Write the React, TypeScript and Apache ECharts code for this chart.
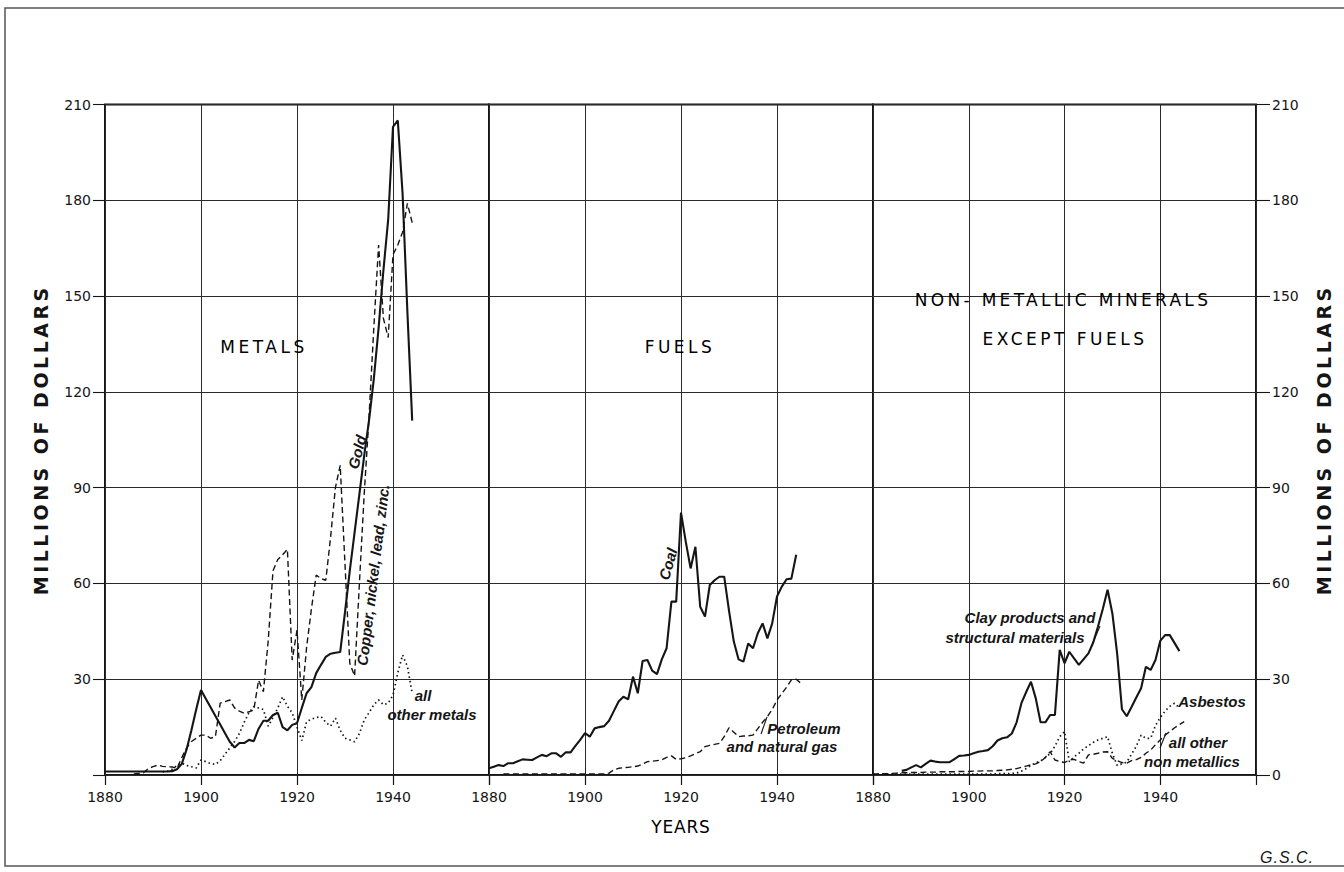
import React, { useEffect, useRef } from "react";
import * as echarts from "echarts";

// ---------- data (millions of dollars, one value per year) ----------
const X_MIN = 1880;
const X_MAX = 1960;
const Y_MAX = 210;

const GOLD_START = 1880;
const GOLD = [
  1.1, 1.1, 1.1, 1.1, 1.1, 1.1, 1.1, 1.1, 1.1, 1.1, 1.1, 1.1, 1.1, 1.1,
  1.2, 1.8, 3.5, 8, 14, 20.5,
  26.6, 23.9, 21.2, 18.5, 15.8, 13.1, 10.4, 8.6, 10, 10,
  11, 10.6, 14.5, 17, 17, 18.8, 19.5, 15, 14, 15.7,
  16.2, 21, 25.6, 27.5, 31.9, 34.5, 37, 38, 38.3, 38.5,
  51, 64, 76, 88, 100, 111, 124, 140, 158, 174,
  203, 205, 182, 145, 111,
];

const COPPER_START = 1886;
const COPPER = [
  0.3, 0.5, 0.7, 2.0, 2.6, 3.1, 2.7, 2.6, 2.5, 2.1, 5.5, 8.5, 10.5, 11.5,
  12.5, 12.5, 11.5, 12, 22.5, 23, 23.5, 21, 20, 19.3,
  19.8, 20.4, 29.7, 26.1, 42, 64, 67.5, 69, 70.7, 36,
  45.4, 23.5, 40, 52, 62.6, 61.5, 61, 74.5, 90, 97,
  66, 35, 31, 60, 88, 112, 140, 166, 143, 137,
  163, 166, 170, 179, 173,
];

const OTHER_METALS_START = 1892;
const OTHER_METALS = [
  1, 1.2, 1.8, 3, 3.7, 3, 2.6, 2.2,
  4.7, 4.2, 3.6, 3.3, 4.5, 6.5, 8.5, 10.5, 13, 16.5,
  19.5, 21.4, 21, 20.5, 15.3, 18, 21, 24.5, 21.5, 19.5,
  15, 10.8, 16.7, 17.5, 18, 18.3, 16.5, 15.3, 17.8, 14,
  11.5, 11, 10.4, 13, 17.2, 19.5, 22, 23.5, 22, 22.5,
  25, 32, 37.6, 34, 25.6,
];

const COAL_START = 1880;
const COAL = [
  2.1, 2.6, 3.1, 2.8, 3.7, 3.7, 4.3, 4.9, 4.8, 4.7,
  5.5, 6.3, 5.9, 6.8, 6.8, 5.7, 7.1, 7.1, 9.1, 11,
  13.1, 12, 14.6, 15, 15.3, 17, 20, 23, 24.5, 23.7,
  30.8, 25.6, 35.7, 36, 32.7, 31.6, 36.2, 39.7, 54.3, 54.3,
  82.2, 73, 64.7, 71.5, 52.7, 49.6, 59.5, 61, 62.1, 62.1,
  51.5, 41.8, 36.2, 35.5, 41.2, 39.7, 44.4, 47.5, 42.8, 47.5,
  55.9, 59, 61.3, 61.5, 69,
];

const PETROLEUM_START = 1883;
const PETROLEUM = [
  0.3, 0.3, 0.3, 0.3, 0.3, 0.3, 0.3,
  0.3, 0.3, 0.3, 0.3, 0.3, 0.3, 0.3, 0.3, 0.3, 0.3,
  0.3, 0.3, 0.3, 0.3, 0.3, 0.6, 1.6, 2.1, 2.3, 2.4,
  2.6, 2.8, 3.4, 4.2, 4.3, 4.5, 4.7, 5.5, 6, 4.9,
  5.1, 5.4, 6, 6.7, 7.3, 8.9, 9.3, 9.6, 9.9, 12,
  14.8, 13.4, 12, 12.2, 12.3, 12.5, 14.5, 16.5, 18.3, 20.5,
  23.5, 25.5, 27.5, 29.8, 30, 28.7,
];

const CLAY_START = 1886;
const CLAY = [
  1.3, 1.6, 2.4, 3.1, 2.4, 3.5, 4.5, 4.2, 4, 4, 4, 5, 6, 6.1,
  6.3, 6.8, 7.3, 7.5, 7.8, 9, 10.8, 11.5, 11.8, 13,
  16.5, 22.5, 26, 29.2, 24, 16.5, 16.5, 18.8, 18.8, 39.2,
  35, 38.6, 36.5, 34.5, 36.3, 38.1, 41.5, 46.5, 52, 58,
  50.6, 38, 20.6, 18.4, 21.3, 24.3, 27.2, 33.9, 32.9, 36,
  42, 43.8, 43.8, 41.3, 38.8,
];

const ASBESTOS_START = 1880;
const ASBESTOS = [
  0.3, 0.3, 0.3, 0.3, 0.3, 0.3, 0.3, 0.3, 0.3, 0.3,
  0.3, 0.3, 0.3, 0.3, 0.3, 0.3, 0.3, 0.3, 0.3, 0.3,
  0.3, 0.3, 0.3, 0.3, 0.3, 0.3, 0.4, 0.4, 0.4, 0.5,
  0.6, 1.2, 2, 3, 3.8, 4.4, 5.5, 6.7, 9, 12,
  13.6, 4.2, 5.7, 6.8, 8.2, 9.2, 10.2, 11, 11.5, 12,
  6.8, 3, 3.5, 4, 6.5, 9, 12.5, 11.5, 11.5, 15.5,
  18, 20, 21.5, 22.5, 21,
];

const OTHER_NONMET_START = 1880;
const OTHER_NONMET = [
  0.3, 0.3, 0.4, 0.4, 0.5, 0.6, 0.7, 0.7, 0.8, 0.8,
  0.8, 0.9, 0.9, 0.9, 1, 1, 1, 1, 1.1, 1.1,
  1.1, 1.2, 1.2, 1.3, 1.3, 1.3, 1.4, 1.5, 1.6, 1.8,
  2, 2.4, 2.8, 3.2, 3.5, 4.2, 5.5, 7.3, 4.7, 4.2,
  3.9, 4.7, 4.9, 4.2, 3.7, 6.3, 6.5, 6.8, 7.2, 7.3,
  5.2, 4.5, 3.9, 3.7, 4.5, 4.8, 5.5, 6.8, 7.8, 9.5,
  11, 12.5, 13.6, 14.8, 15.8, 16.7,
];

const PANEL_TITLES = ["METALS", "FUELS", "NON- METALLIC MINERALS", "EXCEPT FUELS"];
const Y_NAME = "MILLIONS OF DOLLARS";
const X_NAME = "YEARS";

// ---------- helpers ----------
const toPairs = (start: number, values: number[]) =>
  values.map((v, i) => [start + i, v]);

const INK = "#151515";
const FONT = "DejaVu Sans";
const NOTE_FONT = "Liberation Sans";

const GRIDS = [
  { left: 105, width: 384 },
  { left: 489, width: 384 },
  { left: 873, width: 383 },
];
const TOP = 104.5;
const HEIGHT = 670.5;

const SOLID = { color: INK, width: 2.1, type: "solid" as const };
const DASHED = { color: INK, width: 1.4, type: [6, 3.5] };
const DOTTED = { color: INK, width: 1.7, type: [1.5, 3] };

const line = (gi: number, start: number, values: number[], style: any, name: string) => ({
  type: "line",
  name,
  xAxisIndex: gi,
  yAxisIndex: gi,
  data: toPairs(start, values),
  showSymbol: false,
  symbol: "none",
  silent: true,
  lineStyle: style,
  z: 5,
});

const note = (text: string, x: number, y: number, rotDeg = 0, size = 15, weight = "bold") => ({
  type: "text",
  x,
  y,
  rotation: (rotDeg * Math.PI) / 180,
  silent: true,
  z: 10,
  style: {
    text,
    fill: INK,
    fontSize: size,
    fontFamily: NOTE_FONT,
    fontStyle: "italic",
    fontWeight: weight,
    align: "center",
    verticalAlign: "middle",
    textAlign: "center",
    textVerticalAlign: "middle",
  },
});

const title = (text: string, x: number, y: number, size = 17) => ({
  type: "text",
  x,
  y,
  silent: true,
  z: 10,
  style: {
    text,
    fill: "#000",
    fontSize: size,
    fontFamily: FONT,
    fontWeight: "normal",
    align: "center",
    verticalAlign: "middle",
    textAlign: "center",
    textVerticalAlign: "middle",
  },
});

const leader = (x1: number, y1: number, x2: number, y2: number) => ({
  type: "line",
  silent: true,
  z: 10,
  shape: { x1, y1, x2, y2 },
  style: { stroke: INK, lineWidth: 1.1 },
});

const SPACING: Record<string, number> = {
  METALS: 3.5,
  FUELS: 3.5,
  "NON- METALLIC MINERALS": 3.3,
  "EXCEPT FUELS": 3.5,
  "MILLIONS OF DOLLARS": 3.5,
  YEARS: 0.8,
  "G.S.C.": 1,
};

export default function App() {
  const ref = useRef<HTMLDivElement>(null);

  useEffect(() => {
    if (!ref.current) return;
    const chart = echarts.init(ref.current, undefined, { renderer: "svg" });

    const xAxes = GRIDS.map((_, i) => ({
      type: "value",
      gridIndex: i,
      min: X_MIN,
      max: X_MAX,
      interval: 20,
      axisLine: { show: false },
      axisTick: { show: true, length: 10, lineStyle: { color: INK, width: 1.2 } },
      axisLabel: {
        show: true,
        formatter: (v: number) => (v === X_MAX ? "" : String(v)),
        fontSize: 14,
        fontFamily: FONT,
        color: INK,
        margin: 15,
      },
      splitLine: { show: true, lineStyle: { color: "#2a2a2a", width: 1 } },
    }));

    const yAxes = GRIDS.map((_, i) => ({
      type: "value",
      gridIndex: i,
      min: 0,
      max: Y_MAX,
      interval: 30,
      position: i === 2 ? "right" : "left",
      axisLine: { show: false },
      axisTick: {
        show: i !== 1,
        length: i === 2 ? 14 : 12,
        lineStyle: { color: INK, width: 1.1 },
      },
      axisLabel: {
        show: i !== 1,
        formatter: (v: number) => (i === 0 && v === 0 ? "" : String(v)),
        fontSize: 14,
        fontFamily: FONT,
        color: INK,
        margin: i === 2 ? 16 : 14,
      },
      splitLine: { show: true, lineStyle: { color: "#2a2a2a", width: 1 } },
      name: i === 1 ? "" : Y_NAME,
      nameLocation: "middle",
      nameRotate: 90,
      nameGap: i === 2 ? 58 : 55,
      nameTextStyle: { fontSize: 19, fontFamily: FONT, fontWeight: "bold", color: INK },
    }));

    chart.setOption({
      animation: false,
      backgroundColor: "#ffffff",
      grid: GRIDS.map((g) => ({
        left: g.left,
        top: TOP,
        width: g.width,
        height: HEIGHT,
        show: true,
        borderColor: INK,
        borderWidth: 2,
        backgroundColor: "transparent",
        containLabel: false,
      })),
      xAxis: xAxes,
      yAxis: yAxes,
      series: [
        line(0, GOLD_START, GOLD, SOLID, "Gold"),
        line(0, COPPER_START, COPPER, DASHED, "Copper, nickel, lead, zinc"),
        line(0, OTHER_METALS_START, OTHER_METALS, DOTTED, "All other metals"),
        line(1, COAL_START, COAL, SOLID, "Coal"),
        line(1, PETROLEUM_START, PETROLEUM, DASHED, "Petroleum and natural gas"),
        line(2, CLAY_START, CLAY, SOLID, "Clay products and structural materials"),
        line(2, ASBESTOS_START, ASBESTOS, DOTTED, "Asbestos"),
        line(2, OTHER_NONMET_START, OTHER_NONMET, DASHED, "All other non metallics"),
      ],
      graphic: [
        {
          type: "rect",
          silent: true,
          z: 0,
          shape: { x: 5, y: 8, width: 1350, height: 858 },
          style: { fill: "none", stroke: "#555", lineWidth: 1.5 },
        },
        title(PANEL_TITLES[0], 264, 347),
        title(PANEL_TITLES[1], 680, 347),
        title(PANEL_TITLES[2], 1063, 300),
        title(PANEL_TITLES[3], 1065, 339),
        title(X_NAME, 681, 827, 17),
        note("G.S.C.", 1287, 857, 0, 16, "normal"),
        note("Gold", 357, 452, 75),
        note("Copper, nickel, lead, zinc.", 373, 575, 83),
        note("all", 423, 695),
        note("other metals", 432, 714),
        note("Coal", 668, 564, 74),
        note("Petroleum", 804, 728),
        note("and natural gas", 782, 746),
        leader(761, 734, 767, 717),
        note("Clay products and", 1030, 617),
        note("structural materials", 1015, 637),
        leader(1092, 645, 1100, 626),
        note("Asbestos", 1212, 701),
        note("all other", 1198, 742),
        leader(1160, 748, 1166, 733),
        note("non metallics", 1192, 761),
      ],
    });

    // widen the lettering of the stencilled captions
    ref.current.querySelectorAll("text").forEach((t) => {
      const s = SPACING[(t.textContent || "").trim()];
      if (s) t.setAttribute("letter-spacing", String(s));
    });

    return () => chart.dispose();
  }, []);

  return (
    <div
      ref={ref}
      style={{ position: "absolute", left: 0, top: 0, width: 1344, height: 872, background: "#fff" }}
    />
  );
}
